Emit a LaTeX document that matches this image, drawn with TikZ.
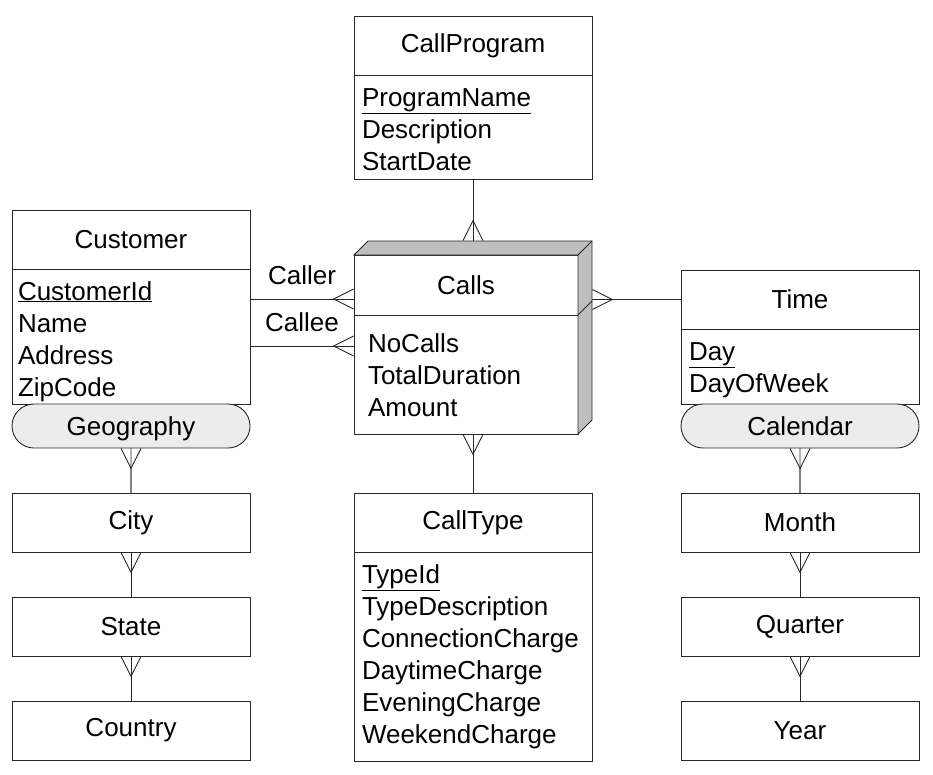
\documentclass[tikz,border=0pt]{standalone}
\usepackage{fontspec}
\setmainfont{Liberation Sans}
\usetikzlibrary{arrows.meta,positioning,shapes.misc,calc}

\begin{document}
\begin{tikzpicture}[
  x=1pt, y=-1pt,
  node distance=45pt,
  every node/.style={font=\fontsize{26}{32}\selectfont},
  head/.style={draw=black!85, line width=0.9pt, minimum width=238pt,
               minimum height=59pt, inner sep=0pt, outer sep=0pt},
  attrs/.style={draw=black!85, line width=0.9pt, text width=222pt, align=left,
                inner xsep=8pt, inner ysep=0pt, outer sep=0pt, text height=31pt},
  level/.style={head},
  group/.style={rounded rectangle, draw=black!85, fill=gray!15, line width=0.9pt,
                minimum width=238pt, minimum height=44pt, inner sep=0pt, outer sep=0pt,
                text depth=0pt},
  link/.style={draw=black!85, line width=0.9pt},
  many/.style={link, -{Straight Barb[reversed, length=20pt, width=20pt]},
               postaction={draw, -}},
  role/.style={inner sep=14pt},
]
\useasboundingbox (0,0) rectangle (933,774);

% Fact table
\node[head, minimum width=224pt, minimum height=60pt] (calls) at (466,285) {Calls};
\node[attrs, text width=196pt, inner xsep=14pt, text height=37pt, text depth=82pt,
      below=0pt of calls] (callsattr) {NoCalls\\TotalDuration\\Amount};
\filldraw[link, fill=gray!50] (calls.north west) -- ++(14,-14) -- ++(224,0)
  -- ($(callsattr.south east)+(14,-14)$) -- (callsattr.south east)
  -- (calls.north east) -- cycle;
\draw[link] (calls.north east) -- ++(14,-14);
\draw[link] (calls.south east) -- ++(14,-14);
\coordinate (callsN) at ($(calls.north)+(7,-14)$);
\coordinate (side)   at ($(calls.east)+(14,0)$);
\coordinate (caller) at ($(calls.south west)+(0,-16)$);
\coordinate (callee) at ($(callsattr.north west)+(0,31)$);

% Dimensions
\node[head] (prog) at (473,46) {CallProgram};
\node[attrs, text depth=73pt, below=0pt of prog] (progattr)
  {\underline{ProgramName}\\Description\\StartDate};

\node[head] (cust) at (131,239.5) {Customer};
\node[attrs, inner xsep=6pt, text width=226pt, text depth=104pt,
      below=0pt of cust] (custattr)
  {\underline{CustomerId}\\Name\\Address\\ZipCode};

\node[head] (time) at (800,299.5) {Time};
\node[attrs, text depth=44pt, below=0pt of time] (timeattr)
  {\underline{Day}\\DayOfWeek};

\node[head] (type) at (473,522.5) {CallType};
\node[attrs, text depth=178pt, below=0pt of type] (typeattr)
  {\underline{TypeId}\\TypeDescription\\ConnectionCharge\\DaytimeCharge\\EveningCharge\\WeekendCharge};

% Hierarchies
\node[group, below=0pt of custattr] (geo) {Geography};
\node[level, below=of geo]   (city)    {City};
\node[level, below=of city]  (state)   {State};
\node[level, below=of state] (country) {Country};

\node[group, below=0pt of timeattr] (cal) {Calendar};
\node[level, below=of cal]     (month)   {Month};
\node[level, below=of month]   (quarter) {Quarter};
\node[level, below=of quarter] (year)    {Year};

% Fact links
\draw[many] (progattr.south) -- (callsN);
\draw[many] (custattr.east |- caller) -- node[above, role]{Caller} (caller);
\draw[many] (custattr.east |- callee) -- node[above, role]{Callee} (callee);
\draw[many] (time.west) -- (time.west -| side);
\draw[many] (type.north) -- (type.north |- callsattr.south);

% Roll-up links
\draw[many] (city) -- (geo);
\draw[many] (state) -- (city);
\draw[many] (country) -- (state);
\draw[many] (month) -- (cal);
\draw[many] (quarter) -- (month);
\draw[many] (year) -- (quarter);

\end{tikzpicture}
\end{document}
